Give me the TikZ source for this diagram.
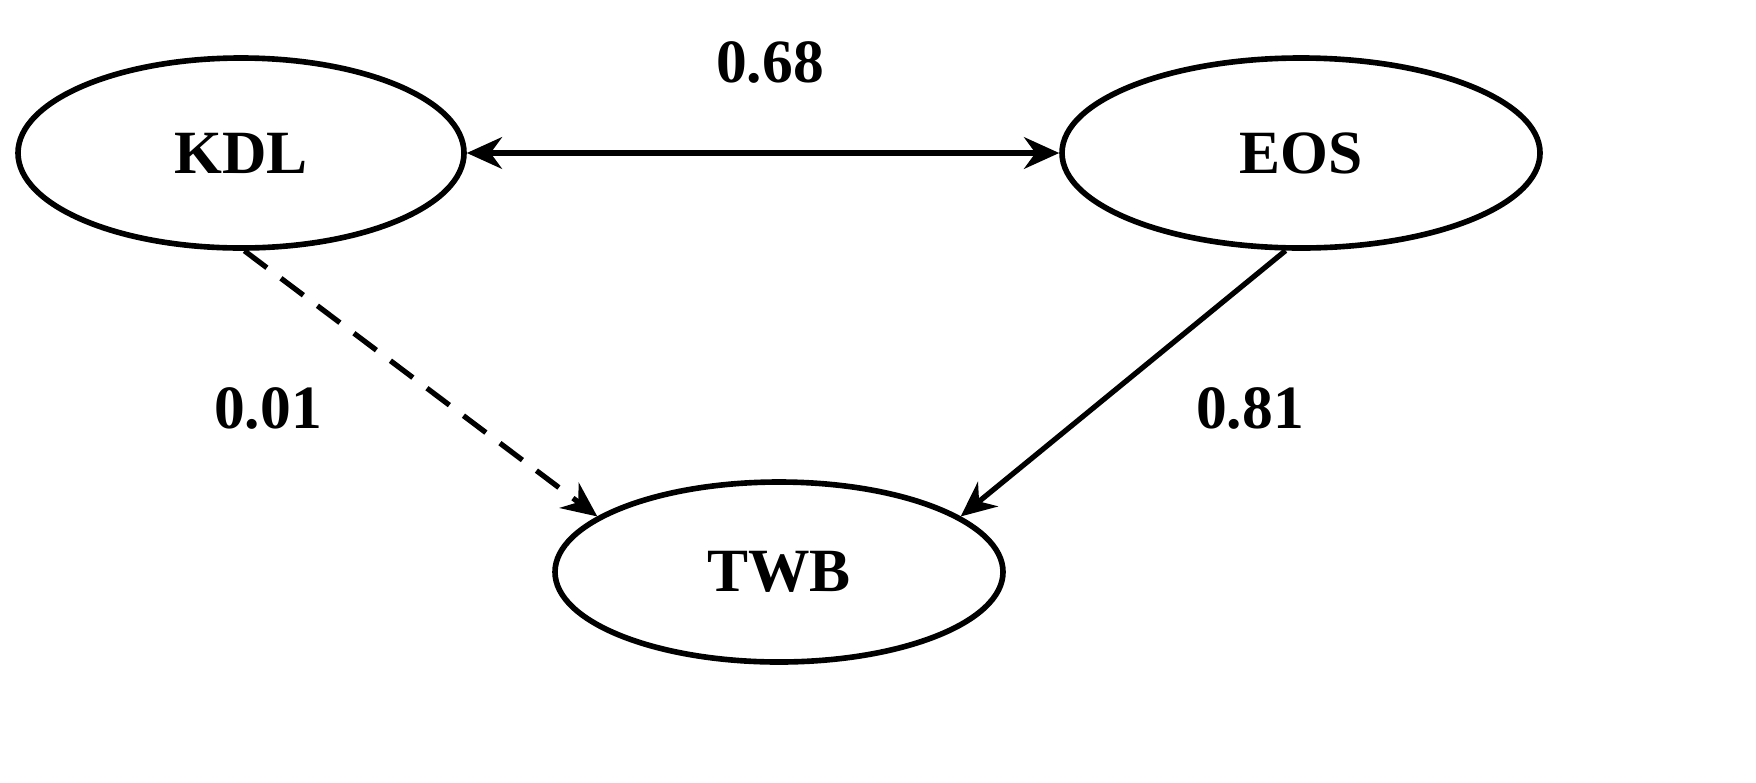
\documentclass[tikz,border=0pt]{standalone}
\usepackage{fontspec}
\setmainfont{Liberation Serif}
\usetikzlibrary{shapes.geometric,arrows.meta}
\begin{document}
\begin{tikzpicture}[
  lv/.style={draw,ellipse,line width=1.6pt,inner sep=0pt,font=\fontsize{17.5}{20}\selectfont\bfseries},
  lbl/.style={font=\fontsize{17.5}{20}\selectfont\bfseries},
  conn/.style={line width=1.5pt,-{Stealth[length=10pt,width=9pt]}}
]
\useasboundingbox (0,0) rectangle (17.56,-7.82);
\node[lv,minimum width=4.46cm,minimum height=1.90cm] (kdl) at (2.41,-1.53) {KDL};
\node[lv,minimum width=4.78cm,minimum height=1.90cm] (eos) at (13.01,-1.53) {EOS};
\node[lv,minimum width=4.48cm,minimum height=1.80cm] (twb) at (7.79,-5.72) {TWB};
\draw[conn,{Stealth[length=10pt,width=9pt]}-{Stealth[length=10pt,width=9pt]}] (kdl) -- (eos);
\draw[conn,dash pattern=on 8pt off 5pt] (kdl.-88) -- (twb.163);
\draw[conn] (eos.-99) -- (twb.17);
\node[lbl] (l1) at (7.70,-0.62) {0.68};
\node[lbl] (l2) at (2.68,-4.08) {0.01};
\node[lbl] (l3) at (12.50,-4.08) {0.81};
\end{tikzpicture}
\end{document}
